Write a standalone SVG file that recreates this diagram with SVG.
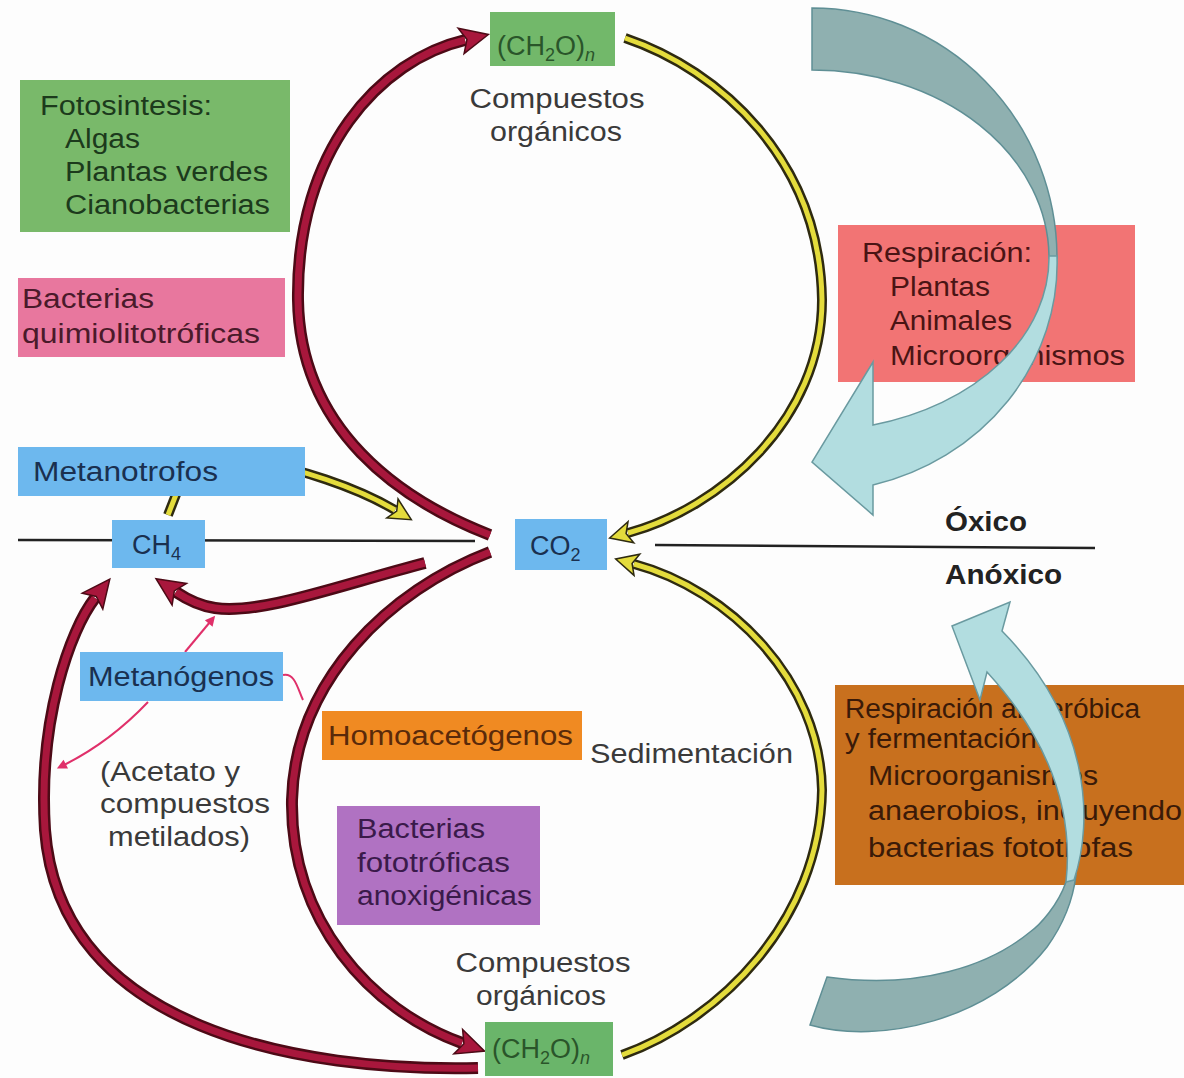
<svg xmlns="http://www.w3.org/2000/svg" width="1184" height="1078" viewBox="0 0 1184 1078">
<defs>
<style>
text{font-family:"Liberation Sans",Arial,sans-serif;font-size:27px}
.red-o{fill:none;stroke:#4d0a16;stroke-width:12}
.red-i{fill:none;stroke:#a8173c;stroke-width:7}
.yel-o{fill:none;stroke:#2e2a10;stroke-width:10}
.yel-i{fill:none;stroke:#e4dc3c;stroke-width:5}
.pink{fill:none;stroke:#e0306a;stroke-width:2}
.axis{stroke:#222;stroke-width:2.5}
.lbl{fill:#3a3a3a}
.teal-d{fill:#8fb0b0;stroke:#5f8f95;stroke-width:1.5}
.teal-l{fill:#b2dde0;stroke:#6a9aa0;stroke-width:1.5}
</style>
<marker id="rh" markerUnits="userSpaceOnUse" markerWidth="40" markerHeight="40" refX="4" refY="20" orient="auto" overflow="visible"><path d="M0,7 L28,20 L0,33 L6,20 Z" fill="#a8173c" stroke="#4d0a16" stroke-width="1.5"/></marker>
<marker id="yh" markerUnits="userSpaceOnUse" markerWidth="40" markerHeight="40" refX="3" refY="20" orient="auto" overflow="visible"><path d="M0,9 L22,20 L0,31 L5,20 Z" fill="#e4dc3c" stroke="#2e2a10" stroke-width="1.5"/></marker>
<marker id="ph" markerUnits="userSpaceOnUse" markerWidth="20" markerHeight="20" refX="2" refY="10" orient="auto" overflow="visible"><path d="M0,5 L10,10 L0,15 Z" fill="#e0306a"/></marker>
</defs>
<rect width="1184" height="1078" fill="#fdfdfd"/>

<line class="axis" x1="18" y1="540" x2="475" y2="541"/>
<line class="axis" x1="655" y1="545" x2="1095" y2="548"/>

<g id="connectors">
<path class="red-o" d="M490,535 C400,500 300,430 298,300 C296,150 380,60 465,40"/>
<path class="red-i" marker-end="url(#rh)" d="M490,535 C400,500 300,430 298,300 C296,150 380,60 465,40"/>
<path class="red-o" d="M490,552 C390,590 295,680 292,800 C290,920 370,1010 462,1043"/>
<path class="red-i" marker-end="url(#rh)" d="M490,552 C390,590 295,680 292,800 C290,920 370,1010 462,1043"/>
<path class="red-o" d="M478,1068 C300,1072 60,1030 45,830 C38,720 70,630 95,598"/>
<path class="red-i" marker-end="url(#rh)" d="M478,1068 C300,1072 60,1030 45,830 C38,720 70,630 95,598"/>
<path class="red-o" d="M425,563 C340,585 260,615 215,608 C200,606 188,600 176,592"/>
<path class="red-i" marker-end="url(#rh)" d="M425,563 C340,585 260,615 215,608 C200,606 188,600 176,592"/>
<path class="yel-o" d="M625,38 C720,70 820,160 822,300 C822,420 720,508 628,533"/>
<path class="yel-i" marker-end="url(#yh)" d="M625,38 C720,70 820,160 822,300 C822,420 720,508 628,533"/>
<path class="yel-o" d="M622,1055 C720,1020 820,920 822,790 C820,680 730,590 634,564"/>
<path class="yel-i" marker-end="url(#yh)" d="M622,1055 C720,1020 820,920 822,790 C820,680 730,590 634,564"/>
<path class="yel-o" d="M240,458 C300,468 358,488 395,510"/>
<path class="yel-i" marker-end="url(#yh)" d="M240,458 C300,468 358,488 395,510"/>
<path class="yel-o" d="M177,492 L168,515"/>
<path class="yel-i" d="M177,492 L168,515"/>
<path class="pink" marker-end="url(#ph)" d="M185,652 L210,622"/>
<path class="pink" marker-end="url(#ph)" d="M148,702 Q110,742 64,765"/>
<path class="pink" d="M283,675 C295,672 298,690 303,700"/>
</g>

<g id="n-ch2o-top"><rect x="490" y="12" width="125" height="54" fill="#72b86a"/><text x="497" y="55" fill="#2a552a">(CH<tspan font-size="18" dy="6">2</tspan><tspan dy="-6">O)</tspan><tspan font-size="18" font-style="italic" dy="6">n</tspan></text></g>
<g id="lbl-org-top"><text class="lbl" x="557" y="108" text-anchor="middle" textLength="175" lengthAdjust="spacingAndGlyphs">Compuestos</text><text class="lbl" x="556" y="141" text-anchor="middle" textLength="132" lengthAdjust="spacingAndGlyphs">orgánicos</text></g>

<g id="n-fotosintesis"><rect x="20" y="80" width="270" height="152" fill="#79b96a"/>
<text fill="#1c3a1c" x="40" y="115" textLength="172" lengthAdjust="spacingAndGlyphs">Fotosintesis:</text>
<text fill="#1c3a1c" x="65" y="148" textLength="75" lengthAdjust="spacingAndGlyphs">Algas</text>
<text fill="#1c3a1c" x="65" y="181" textLength="203" lengthAdjust="spacingAndGlyphs">Plantas verdes</text>
<text fill="#1c3a1c" x="65" y="214" textLength="205" lengthAdjust="spacingAndGlyphs">Cianobacterias</text></g>

<g id="n-quimio"><rect x="18" y="278" width="267" height="79" fill="#e8779e"/>
<text fill="#4a1a2a" x="22" y="308" textLength="132" lengthAdjust="spacingAndGlyphs">Bacterias</text>
<text fill="#4a1a2a" x="22" y="343" textLength="238" lengthAdjust="spacingAndGlyphs">quimiolitotróficas</text></g>

<g id="n-respiracion"><rect x="838" y="225" width="297" height="157" fill="#f27474"/>
<text fill="#4a1414" x="862" y="262" textLength="170" lengthAdjust="spacingAndGlyphs">Respiración:</text>
<text fill="#4a1414" x="890" y="296" textLength="100" lengthAdjust="spacingAndGlyphs">Plantas</text>
<text fill="#4a1414" x="890" y="330" textLength="122" lengthAdjust="spacingAndGlyphs">Animales</text>
<text fill="#4a1414" x="890" y="365" textLength="235" lengthAdjust="spacingAndGlyphs">Microorganismos</text></g>

<g id="n-metanotrofos"><rect x="18" y="447" width="287" height="49" fill="#6db8ee"/>
<text fill="#1a3050" x="33" y="481" textLength="185" lengthAdjust="spacingAndGlyphs">Metanotrofos</text></g>

<g id="n-ch4"><rect x="112" y="520" width="93" height="48" fill="#6db8ee"/>
<text fill="#1a3050" x="132" y="554">CH<tspan font-size="18" dy="6">4</tspan></text></g>

<g id="n-co2"><rect x="515" y="519" width="92" height="51" fill="#6db8ee"/>
<text fill="#1a3050" x="530" y="555">CO<tspan font-size="18" dy="6">2</tspan></text></g>

<g id="lbl-oxico"><text x="945" y="531" fill="#222" font-weight="bold" textLength="82" lengthAdjust="spacingAndGlyphs" font-size="25">Óxico</text>
<text x="945" y="584" fill="#222" font-weight="bold" textLength="117" lengthAdjust="spacingAndGlyphs" font-size="25">Anóxico</text></g>

<g id="n-metanogenos"><rect x="80" y="652" width="203" height="49" fill="#6db8ee"/>
<text fill="#1a3050" x="88" y="686" textLength="186" lengthAdjust="spacingAndGlyphs">Metanógenos</text></g>

<g id="n-homoacetogenos"><rect x="322" y="711" width="260" height="49" fill="#f08a22"/>
<text fill="#5a2a0a" x="328" y="745" textLength="245" lengthAdjust="spacingAndGlyphs">Homoacetógenos</text></g>

<g id="lbl-sedimentacion"><text class="lbl" x="590" y="763" textLength="203" lengthAdjust="spacingAndGlyphs">Sedimentación</text></g>

<g id="lbl-acetato"><text class="lbl" x="100" y="781" textLength="140" lengthAdjust="spacingAndGlyphs">(Acetato y</text>
<text class="lbl" x="100" y="813" textLength="170" lengthAdjust="spacingAndGlyphs">compuestos</text>
<text class="lbl" x="108" y="846" textLength="142" lengthAdjust="spacingAndGlyphs">metilados)</text></g>

<g id="n-fototroficas"><rect x="337" y="806" width="203" height="119" fill="#b072c2"/>
<text fill="#3a1a4a" x="357" y="838" textLength="128" lengthAdjust="spacingAndGlyphs">Bacterias</text>
<text fill="#3a1a4a" x="357" y="872" textLength="153" lengthAdjust="spacingAndGlyphs">fototróficas</text>
<text fill="#3a1a4a" x="357" y="905" textLength="175" lengthAdjust="spacingAndGlyphs">anoxigénicas</text></g>

<g id="n-anaerobica"><rect x="835" y="685" width="349" height="200" fill="#c8701e"/>
<text fill="#3a1a08" x="845" y="718" textLength="295" lengthAdjust="spacingAndGlyphs">Respiración anaeróbica</text>
<text fill="#3a1a08" x="845" y="748" textLength="200" lengthAdjust="spacingAndGlyphs">y fermentación:</text>
<text fill="#3a1a08" x="868" y="785" textLength="230" lengthAdjust="spacingAndGlyphs">Microorganismos</text>
<text fill="#3a1a08" x="868" y="820" textLength="314" lengthAdjust="spacingAndGlyphs">anaerobios, incluyendo</text>
<text fill="#3a1a08" x="868" y="857" textLength="265" lengthAdjust="spacingAndGlyphs">bacterias fototrofas</text></g>

<g id="lbl-org-bottom"><text class="lbl" x="543" y="972" text-anchor="middle" textLength="175" lengthAdjust="spacingAndGlyphs">Compuestos</text>
<text class="lbl" x="541" y="1005" text-anchor="middle" textLength="130" lengthAdjust="spacingAndGlyphs">orgánicos</text></g>

<g id="n-ch2o-bottom"><rect x="485" y="1022" width="128" height="54" fill="#6ab56a"/>
<text fill="#2a552a" x="492" y="1058">(CH<tspan font-size="18" dy="6">2</tspan><tspan dy="-6">O)</tspan><tspan font-size="18" font-style="italic" dy="6">n</tspan></text></g>

<g id="teal-top">
<path class="teal-d" d="M812,8 A245,250 0 0 1 1057,258 L1049,258 A237,188 0 0 0 812,70 Z"/>
<path class="teal-l" d="M1057,256 A245,229 0 0 1 873,485 L873,515 L812,462 L873,362 L873,425 A237,173 0 0 0 1049,256 Z"/>
</g>
<g id="teal-bottom">
<path class="teal-d" d="M827,977 L810,1025 C880,1045 990,1020 1047,947 C1065,922 1073,900 1076,875 L1066,882 C1058,905 1040,925 1030,932 C990,965 920,990 827,977 Z"/>
<path class="teal-l" d="M1074,880 C1094,820 1090,720 1002,631 L1010,602 L952,626 L980,700 L987,672 C1040,730 1075,800 1066,882 Z"/>
</g>
</svg>
